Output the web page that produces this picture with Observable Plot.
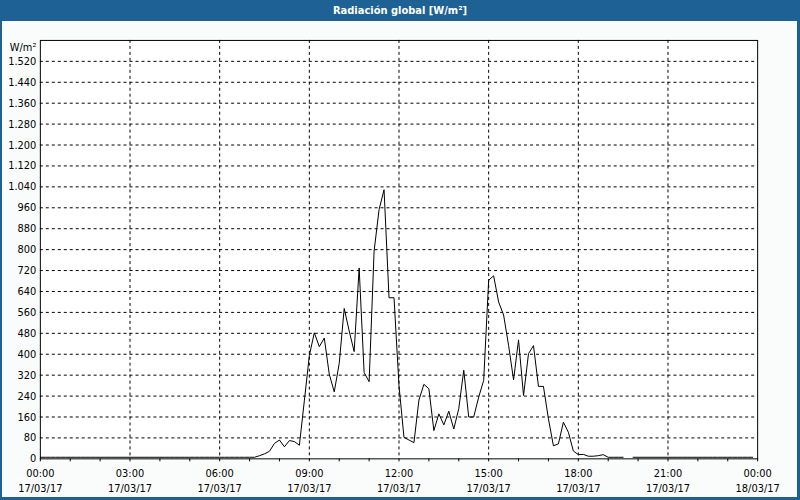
<!DOCTYPE html>
<html><head><meta charset="utf-8">
<script src="https://cdn.jsdelivr.net/npm/d3@7"></script>
<script src="https://cdn.jsdelivr.net/npm/@observablehq/plot@0.6"></script>
<style>
html,body{margin:0;padding:0;background:#fff;}
#win{position:relative;width:800px;height:500px;box-sizing:border-box;background:#fafcfb;border-left:2px solid #1d6195;border-right:3px solid #1d6195;border-bottom:3px solid #1d6195;overflow:hidden;}
#title{position:absolute;left:-2px;top:0;width:800px;height:21px;background:#1d6195;color:#fff;font-family:"DejaVu Sans Condensed","Liberation Sans",sans-serif;font-weight:bold;font-size:11px;text-align:center;line-height:21px;}
#chart{position:absolute;left:-2px;top:21px;}
</style>
</head><body>
<div id="win"><div id="title"></div><div id="chart"></div></div>
<script>
// Title and units
const chartTitle = "Radiación global [W/m²]";
const unitLabel = "W/m²";
// Time axis: 10-minute readings on 17/03/17
const startTime = "2017-03-17T00:00:00Z";
const endTime = "2017-03-18T00:00:00Z";
const stepMinutes = 10;
// Global radiation (W/m²), one value per 10 minutes from 00:00 to 23:50 (null = missing)
const night1 = [ // 00:00 - 07:10
  6,6,6,6,6,6, 6,6,6,6,6,6, 6,6,6,6,6,6, 6,6,6,6,6,6,
  6,6,6,6,6,6, 6,6,6,6,6,6, 6,6,6,6,6,6, 6,6];
const day = [ // 07:20 - 19:30
  12,19,29,59,72,46,70,66,52,222,            // 07:20 - 08:50
  395,482,429,462,324,256,                   // 09:00 - 09:50
  365,575,489,410,730,330,                   // 10:00 - 10:50
  295,794,953,1029,616,616,                  // 11:00 - 11:50
  280,82,72,62,225,285,                      // 12:00 - 12:50
  268,108,172,130,182,114,                   // 13:00 - 13:50
  192,339,160,160,236,300,                   // 14:00 - 14:50
  683,700,600,550,434,302,                   // 15:00 - 15:50
  455,242,402,433,277,277,                   // 16:00 - 16:50
  153,50,57,140,102,30,                      // 17:00 - 17:50
  16,17,10,10,12,16,                         // 18:00 - 18:50
  6,6,6,6                                    // 19:00 - 19:30
];
const gap = [null];                          // 19:40 missing
const night2 = [ // 19:50 - 23:50
  6, 6,6,6,6,6,6, 6,6,6,6,6,6, 6,6,6,6,6,6, 6,6,6,6,6,6];
const radiation = [...night1, ...day, ...gap, ...night2];
// Y ticks every 80 W/m²
const yTicks = d3.range(0, 1600, 80);
const yMax = 1600;

document.getElementById("title").textContent = chartTitle;
const start = new Date(startTime), end = new Date(endTime);
const data = radiation.map((v, i) => ({t: new Date(start.getTime() + i * stepMinutes * 60000), v}));
const hourTicks = d3.utcHour.range(start, new Date(end.getTime() + 1));
const labelTicks = d3.utcHour.every(3).range(start, new Date(end.getTime() + 1));
const gridTicksX = labelTicks.filter(d => +d > +start && +d < +end);
const fmtY = d3.formatLocale({decimal: ",", thousands: ".", grouping: [3], currency: ["", "€"]}).format(",d");
const fmtX = d => d3.utcFormat("%H:%M")(d) + "\n" + d3.utcFormat("%d/%m/%y")(d);
const font = '"DejaVu Sans Condensed","Liberation Sans",sans-serif';

const chart = Plot.plot({
  width: 800, height: 476,
  marginLeft: 40, marginRight: 40, marginTop: 19, marginBottom: 37,
  style: {background: "transparent", fontFamily: font, fontSize: "11px", color: "#000"},
  x: {type: "utc", domain: [start, end], label: null},
  y: {domain: [0, yMax], label: null},
  marks: [
    Plot.frame({fill: "#fff", stroke: "none"}),
    Plot.gridY(yTicks.filter(d => d > 0), {stroke: "#000", strokeOpacity: 1, strokeDasharray: "3,3"}),
    Plot.gridX(gridTicksX, {stroke: "#000", strokeOpacity: 1, strokeDasharray: "3,3"}),
    Plot.axisY(yTicks, {tickSize: 0, tickPadding: 4, tickFormat: fmtY, label: null}),
    Plot.axisX(hourTicks, {tickSize: 3, text: null, label: null}),
    Plot.axisX(labelTicks, {tickSize: 0, tickPadding: 8, tickFormat: fmtX, lineHeight: 1.35, label: null}),
    Plot.line(data, {x: "t", y: "v", stroke: "#000", strokeWidth: 1}),
    Plot.frame({stroke: "#000"}),
    Plot.text([unitLabel], {frameAnchor: "top-left", textAnchor: "end", dx: -4, dy: 3})
  ]
});
document.getElementById("chart").appendChild(chart);
</script>
</body></html>
